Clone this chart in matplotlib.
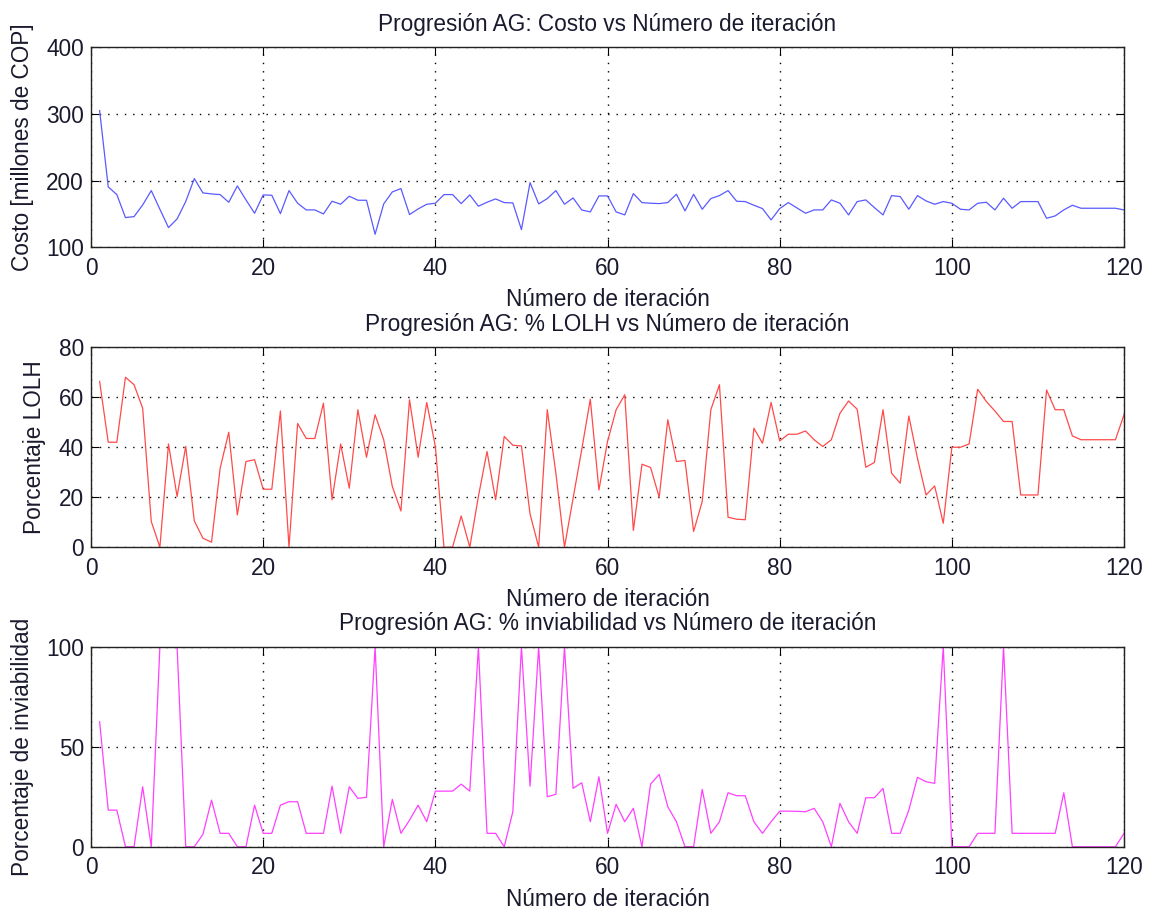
import numpy as np
import matplotlib
matplotlib.use("Agg")
import matplotlib.pyplot as plt

plt.rcParams['font.family'] = ['Liberation Sans', 'DejaVu Sans']

# iteraciones 1..120
iteraciones = list(range(1, 121))

# costo [millones de COP]
costo = [305, 190.5, 179, 144.5, 146, 163.5, 185, 157, 129.5, 142.5,
         168.5, 203, 181.5, 180, 179, 167.5, 192, 171, 151, 178.5,
         178, 150.5, 185, 166, 156, 156, 150, 169, 164.5, 176.5,
         170.5, 170.5, 119.5, 165, 183, 188, 149, 157.5, 164.5, 166,
         179, 179, 165.5, 178.5, 161.5, 167.5, 172.5, 167, 166.5, 126.5,
         197, 165, 173, 185, 164.5, 174, 156, 153, 177, 177,
         153, 148.5, 180.5, 167, 166, 165.5, 167, 179.5, 154.5, 179.5,
         157, 173, 177.5, 185, 169, 168.5, 163, 158, 141, 158,
         167, 159, 151, 156, 156, 171, 166, 148.5, 168.5, 171,
         159.5, 148.5, 177.5, 176, 157, 177.5, 169.5, 164.5, 168.5, 166,
         157, 156, 166, 167.5, 156, 173.5, 158.5, 168.5, 168.5, 168.5,
         143.5, 147, 156, 163, 158.5, 158.5, 158.5, 158.5, 158.5, 156]

# porcentaje LOLH
lolh = [66.3, 42, 42, 68, 65, 55.6, 10.3, 0, 41.3, 20.3,
        40.3, 10.5, 3.6, 2, 31.6, 46, 12.9, 34.3, 35, 23.2,
        23.2, 54.5, 0, 49.5, 43.5, 43.5, 57.6, 19, 41.3, 23.6,
        55, 36, 53, 43, 24.3, 14.5, 59, 36, 57.9, 40.3,
        0, 0, 12.5, 0, 20.3, 38.3, 19, 44.3, 40.8, 40.5,
        13.3, 0, 55, 29.6, 0, 19.6, 39, 59.2, 22.9, 42.3,
        55, 61, 6.7, 33.2, 31.9, 20, 51, 34.3, 34.7, 6.3,
        18.3, 55, 65, 12, 11.2, 11, 47.6, 41.6, 57.9, 42.5,
        45.2, 45.2, 46.5, 43, 40.3, 43, 53.6, 58.5, 55.2, 32,
        33.9, 55, 29.6, 25.6, 52.5, 35.6, 20.9, 24.5, 9.6, 40,
        40, 41.3, 63.2, 58.3, 54.5, 50.3, 50.3, 20.9, 20.9, 20.9,
        62.9, 55, 55, 44.5, 43, 43, 43, 43, 43, 53]

# porcentaje de inviabilidad
inviab = [62.5, 18.3, 18.3, 0, 0, 30, 0, 100, 100, 100,
          0, 0, 6.2, 23.3, 6.7, 6.7, 0, 0, 20.8, 6.7,
          6.7, 20.8, 22.5, 22.5, 6.7, 6.7, 6.7, 30.3, 6.7, 30,
          24.2, 24.7, 100, 0, 23.7, 6.7, 13.3, 20.8, 12.5, 27.8,
          27.8, 27.8, 31.3, 27.8, 100, 6.7, 6.7, 0, 17.5, 100,
          30.3, 100, 25, 26.2, 100, 29.2, 32, 12.5, 35, 6.7,
          21.2, 12.5, 19.2, 0, 31.3, 36.2, 20, 12.5, 0, 0,
          28.7, 6.7, 12.5, 27, 25.5, 25.5, 12.5, 6.7, 12.5, 17.8,
          17.8, 17.7, 17.5, 19.2, 12.5, 0, 21.7, 12.5, 6.7, 24.5,
          24.5, 29.2, 6.7, 6.7, 18.3, 34.7, 32.5, 31.7, 100, 0,
          0, 0, 6.7, 6.7, 6.7, 100, 6.7, 6.7, 6.7, 6.7,
          6.7, 6.7, 27, 0, 0, 0, 0, 0, 0, 6.7]

titulos = ['Progresión AG: Costo vs Número de iteración',
           'Progresión AG: % LOLH vs Número de iteración',
           'Progresión AG: % inviabilidad vs Número de iteración']
ylabels = ['Costo [millones de COP]', 'Porcentaje LOLH', 'Porcentaje de inviabilidad']
series = [costo, lolh, inviab]
colores = ['#5a5aff', '#ff4a4a', '#ff40ff']
ylims = [(100, 400), (0, 80), (0, 100)]
yticks = [[100, 200, 300, 400], [0, 20, 40, 60, 80], [0, 50, 100]]
xticks = [0, 20, 40, 60, 80, 100, 120]

fig = plt.figure(figsize=(11.55, 9.09), dpi=100)
txt = '#1a1a2e'
fs = 16.3

bottoms = [0.728, 0.398, 0.0685]
for k in range(3):
    ax = fig.add_axes([0.0788, bottoms[k], 0.8944, 0.22])
    ax.plot(iteraciones, series[k], color=colores[k], linewidth=0.9)
    ax.set_xlim(0, 120)
    ax.set_ylim(*ylims[k])
    ax.set_xticks(xticks)
    ax.set_yticks(yticks[k])
    ax.grid(True, color='black', linestyle=(0, (1, 5)), linewidth=1.0)
    ax.tick_params(direction='in', top=True, right=True, length=6,
                   labelsize=fs, labelcolor=txt)
    ax.tick_params(axis='x', pad=7)
    ax.tick_params(axis='y', pad=5)
    for s in ax.spines.values():
        s.set_linewidth(1.0)
        s.set_color('#222222')
    ax.set_title(titulos[k], fontsize=fs, color=txt, pad=12)
    ax.set_xlabel('Número de iteración', fontsize=fs, color=txt, labelpad=6)
    ax.set_ylabel(ylabels[k], fontsize=fs, color=txt, labelpad=9)

fig.savefig('out.png', dpi=100)
